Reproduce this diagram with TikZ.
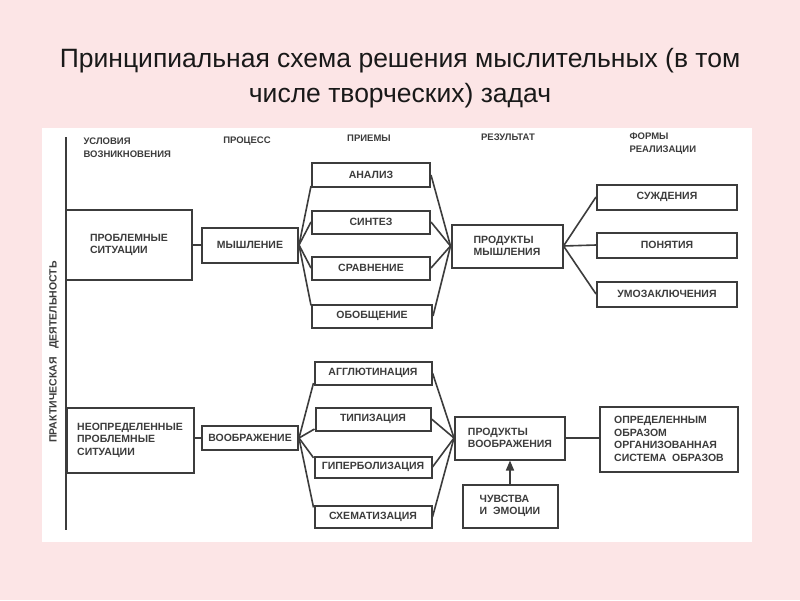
\documentclass[tikz,border=0pt]{standalone}
\usepackage{xcolor}
\usepackage{fontspec}
\setmainfont{Liberation Sans}
\usetikzlibrary{arrows.meta, positioning, calc}

\definecolor{bgpink}{HTML}{FCE5E6}
\definecolor{inkgray}{HTML}{3C3C3C}

\begin{document}
\begin{tikzpicture}[x=1pt, y=-1pt,
  blk/.style={draw=inkgray, line width=2pt, inner sep=0pt, text=inkgray,
    font=\fontsize{10.5}{12.5}\selectfont\bfseries, align=center},
  blkl/.style={blk, align=left},
  hdr/.style={text=inkgray, font=\fontsize{9.5}{13}\selectfont\bfseries, align=left},
  conn/.style={draw=inkgray, line width=1.6pt}]

  \fill[bgpink] (0,0) rectangle (800,600);
  \useasboundingbox (0,0) rectangle (800,600);

  \node[font=\fontsize{26.5}{35}\selectfont, text=black!90, align=center] (title) at (400,78)
    {Принципиальная схема решения мыслительных (в том\\числе творческих) задач};

  \fill[white] (42,128) rectangle (752,542);

  % axis on the left
  \coordinate (axtop) at (66,137);
  \coordinate (axbot) at (66,530);
  \draw[conn] (axtop) -- (axbot);
  \node[hdr, rotate=90, font=\fontsize{10.5}{13}\selectfont\bfseries] (praktika) at (54,352)
    {ПРАКТИЧЕСКАЯ \ \ ДЕЯТЕЛЬНОСТЬ};

  % column heads
  \node[hdr, anchor=west] (uslov) at (80,148) {УСЛОВИЯ\\ВОЗНИКНОВЕНИЯ};
  \node[hdr] (process) at (247,141) {ПРОЦЕСС};
  \node[hdr] (priemy) at (369,138) {ПРИЕМЫ};
  \node[hdr] (rezult) at (508,137) {РЕЗУЛЬТАТ};
  \node[hdr, anchor=west] (formy) at (626,144) {ФОРМЫ\\РЕАЛИЗАЦИИ};

  % thinking
  \node[blkl, minimum width=126, minimum height=70] (probl) at (129,245) {ПРОБЛЕМНЫЕ\\СИТУАЦИИ};
  \node[blk, minimum width=96, minimum height=35] (mysh) at (250,245) {МЫШЛЕНИЕ};
  \node[blk, minimum width=118, minimum height=24] (analiz) at (371,175) {АНАЛИЗ};
  \node[blk, minimum width=118, minimum height=23] (sintez) at (371,222) {СИНТЕЗ};
  \node[blk, minimum width=118, minimum height=23] (sravn) at (371,268) {СРАВНЕНИЕ};
  \node[blk, minimum width=120, minimum height=23] (obobsh) at (372,316) {ОБОБЩЕНИЕ};
  \node[blkl, minimum width=111, minimum height=43] (prodm) at (507,246) {ПРОДУКТЫ\\МЫШЛЕНИЯ};
  \node[blk, minimum width=140, minimum height=25] (suzhd) at (667,197) {СУЖДЕНИЯ};
  \node[blk, minimum width=140, minimum height=25] (ponyat) at (667,245) {ПОНЯТИЯ};
  \node[blk, minimum width=140, minimum height=25] (umoz) at (667,294) {УМОЗАКЛЮЧЕНИЯ};

  % imagination
  \node[blkl, minimum width=127, minimum height=65] (neopr) at (130,440) {НЕОПРЕДЕЛЕННЫЕ\\ПРОБЛЕМНЫЕ\\СИТУАЦИИ};
  \node[blk, minimum width=96, minimum height=24] (voobr) at (250,438) {ВООБРАЖЕНИЕ};
  \node[blk, minimum width=117, minimum height=23] (aggl) at (373,373) {АГГЛЮТИНАЦИЯ};
  \node[blk, minimum width=115, minimum height=23] (tipiz) at (373,419) {ТИПИЗАЦИЯ};
  \node[blk, minimum width=117, minimum height=21] (giperb) at (373,467) {ГИПЕРБОЛИЗАЦИЯ};
  \node[blk, minimum width=117, minimum height=22] (skhem) at (373,517) {СХЕМАТИЗАЦИЯ};
  \node[blkl, minimum width=110, minimum height=43] (prodv) at (510,438) {ПРОДУКТЫ\\ВООБРАЖЕНИЯ};
  \node[blkl, minimum width=138, minimum height=65] (opred) at (669,439) {ОПРЕДЕЛЕННЫМ\\ОБРАЗОМ\\ОРГАНИЗОВАННАЯ\\СИСТЕМА \ ОБРАЗОВ};
  \node[blkl, minimum width=95, minimum height=43] (chuv) at (510,506) {ЧУВСТВА\\И \ ЭМОЦИИ};

  % connectors
  \draw[conn] (mysh.west) -- (mysh.west -| probl.east);
  \draw[conn] (voobr.west) -- (voobr.west -| neopr.east);
  \foreach \t/\a in {analiz/south west, sintez/west, sravn/west, obobsh/north west}
    \draw[conn] (mysh.east) -- ($(\t.\a)!0.15!(\t.west)$) (\t.east) -- (prodm.west);
  \foreach \t in {suzhd, ponyat, umoz}
    \draw[conn] (prodm.east) -- (\t.west);
  \foreach \t/\a in {aggl/south west, tipiz/south west, giperb/north west, skhem/north west}
    \draw[conn] (voobr.east) -- ($(\t.\a)!0.2!(\t.west)$) (\t.east) -- (prodv.west);
  \draw[conn] (prodv.east) -- (opred.west |- prodv.east);
  \draw[conn, -{Triangle[length=10pt, width=8pt]}] (prodv.south |- chuv.north) -- (prodv.south);
\end{tikzpicture}
\end{document}
